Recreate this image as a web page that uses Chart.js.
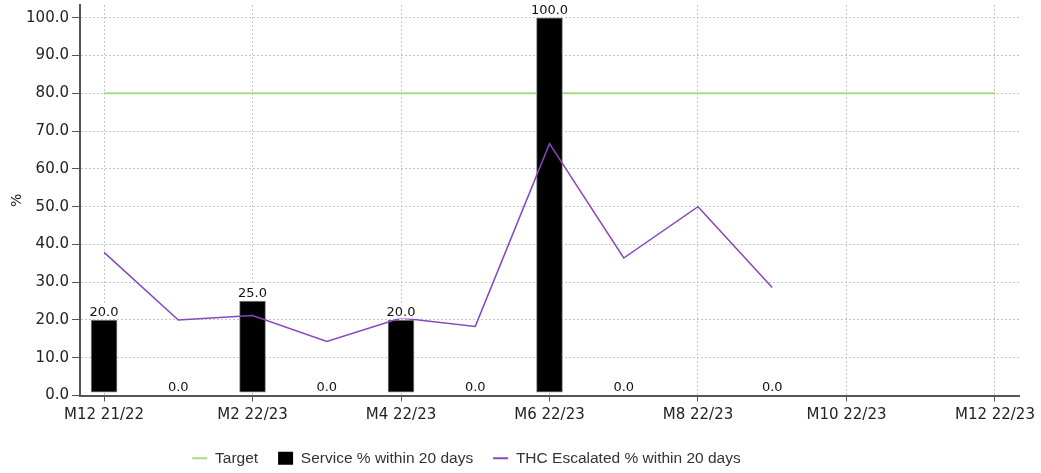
<!DOCTYPE html>
<html>
<head>
<meta charset="utf-8">
<script src="https://cdn.jsdelivr.net/npm/chart.js@4"></script>
<style>
  html, body { margin: 0; padding: 0; background: #fff; }
  #wrap { width: 1041px; height: 473px; }
</style>
</head>
<body>
<div id="wrap"><canvas id="chart"></canvas></div>
<script>
const months      = ['M12 21/22','M1 22/23','M2 22/23','M3 22/23','M4 22/23','M5 22/23','M6 22/23',
                     'M7 22/23','M8 22/23','M9 22/23','M10 22/23','M11 22/23','M12 22/23'];
const targetVals  = [80, 80, 80, 80, 80, 80, 80, 80, 80, 80, 80, 80, 80];
const serviceVals = [20, 0, 25, 0, 20, 0, 100, 0, null, 0, null, null, null];
const thcVals     = [37.9, 20.0, 21.2, 14.3, 20.5, 18.3, 66.7, 36.4, 50.0, 28.6, null, null, null];
const yTicks      = [0, 10, 20, 30, 40, 50, 60, 70, 80, 90, 100];
const xTicks      = [0, 2, 4, 6, 8, 10, 12];

const toPoints = vals => vals.map((v, i) => ({ x: i, y: v }));

// ─── bar value labels with white background ───
const barLabels = {
    id: 'barLabels',
    afterDatasetsDraw(chart) {
        const meta = chart.getDatasetMeta(1);
        const ctx  = chart.ctx;
        const area = chart.chartArea;
        ctx.save();
        ctx.beginPath();
        ctx.rect(area.left, area.top, area.right - area.left, area.bottom - area.top - 1);
        ctx.clip();
        ctx.font = '13px "DejaVu Sans"';
        ctx.textAlign = 'center';
        ctx.textBaseline = 'bottom';
        meta.data.forEach((bar, i) => {
            const v = serviceVals[i];
            if (v === null) return;
            const txt = v.toFixed(1);
            const w = ctx.measureText(txt).width;
            const yTop = chart.scales.y.getPixelForValue(v);
            ctx.fillStyle = '#fff';
            ctx.fillRect(bar.x - w / 2 - 3, yTop - 17, w + 14, 15.5);
            ctx.fillStyle = '#111';
            ctx.fillText(txt, bar.x, yTop - 1);
        });
        ctx.restore();
    }
};

// shift the legend to where it sits in the original
const legendShift = {
    id: 'legendShift',
    afterLayout(chart) {
        chart.legend.left  -= 43;
        chart.legend.right -= 43;
    }
};

new Chart(document.getElementById('chart').getContext('2d'), {
    data: {
        datasets: [
            {
                type: 'line',
                label: 'Target',
                data: toPoints(targetVals),
                borderColor: '#a9dc80',
                backgroundColor: '#a9dc80',
                borderWidth: 2,
                pointRadius: 0,
                order: 3
            },
            {
                type: 'bar',
                label: 'Service % within 20 days',
                data: toPoints(serviceVals),
                base: 0.9,
                backgroundColor: c => (c.raw && c.raw.y) ? '#000' : 'rgba(0,0,0,0)',
                borderColor: c => (c.raw && c.raw.y) ? '#8a8a8a' : 'rgba(0,0,0,0)',
                borderWidth: 1,
                borderSkipped: false,
                barThickness: 26,
                order: 2
            },
            {
                type: 'line',
                label: 'THC Escalated % within 20 days',
                data: toPoints(thcVals),
                borderColor: '#8846c0',
                backgroundColor: '#8846c0',
                borderWidth: 1.5,
                pointRadius: 0,
                spanGaps: false,
                order: 1
            }
        ]
    },
    options: {
        responsive: true,
        maintainAspectRatio: false,
        animation: false,
        layout: { padding: { top: 0, right: 22, bottom: -3, left: 0 } },
        plugins: {
            tooltip: { enabled: false },
            legend: {
                position: 'bottom',
                labels: {
                    color: '#333',
                    font: { family: '"Liberation Sans", Arial', size: 15.5 },
                    usePointStyle: true,
                    boxHeight: 13,
                    pointStyleWidth: 15,
                    padding: 20,
                    sort: (a, b) => a.datasetIndex - b.datasetIndex,
                    generateLabels(chart) {
                        return chart.data.datasets.map((ds, i) => ({
                            text: ds.label,
                            datasetIndex: i,
                            fillStyle: ds.type === 'bar' ? '#000' : ds.borderColor,
                            strokeStyle: ds.type === 'bar' ? '#000' : ds.borderColor,
                            lineWidth: ds.type === 'bar' ? 0 : 2,
                            pointStyle: ds.type === 'bar' ? 'rect' : 'line',
                            fontColor: '#333'
                        }));
                    }
                }
            }
        },
        scales: {
            x: {
                type: 'linear',
                offset: false,
                min: -0.324,
                max: 12.324,
                afterBuildTicks: s => { s.ticks = xTicks.map(v => ({ value: v })); },
                afterFit: s => { s.height += 1; },
                ticks: {
                    color: '#222',
                    font: { family: '"DejaVu Sans"', size: 15 },
                    padding: 5,
                    maxRotation: 0,
                    callback: v => months[v]
                },
                grid: {
                    offset: false,
                    color: '#c6c6c6',
                    tickColor: '#555',
                    tickBorderDash: [],
                    tickLength: 6
                },
                border: { color: '#555', width: 2, dash: [2, 2] }
            },
            y: {
                min: 0,
                max: 103.4,
                afterBuildTicks: s => { s.ticks = yTicks.map(v => ({ value: v })); },
                afterFit: s => { s.width = 80; s.paddingTop = 5; },
                title: {
                    display: true,
                    text: '%',
                    color: '#222',
                    font: { family: '"DejaVu Sans"', size: 14 },
                    padding: { top: 9, bottom: 0 }
                },
                ticks: {
                    color: '#222',
                    font: { family: '"DejaVu Sans"', size: 15 },
                    padding: 3,
                    callback: v => v.toFixed(1)
                },
                grid: {
                    color: '#c6c6c6',
                    tickColor: '#555',
                    tickBorderDash: [],
                    tickLength: 8
                },
                border: { color: '#555', width: 2, dash: [2, 2] }
            }
        }
    },
    plugins: [barLabels, legendShift]
});
</script>
</body>
</html>
